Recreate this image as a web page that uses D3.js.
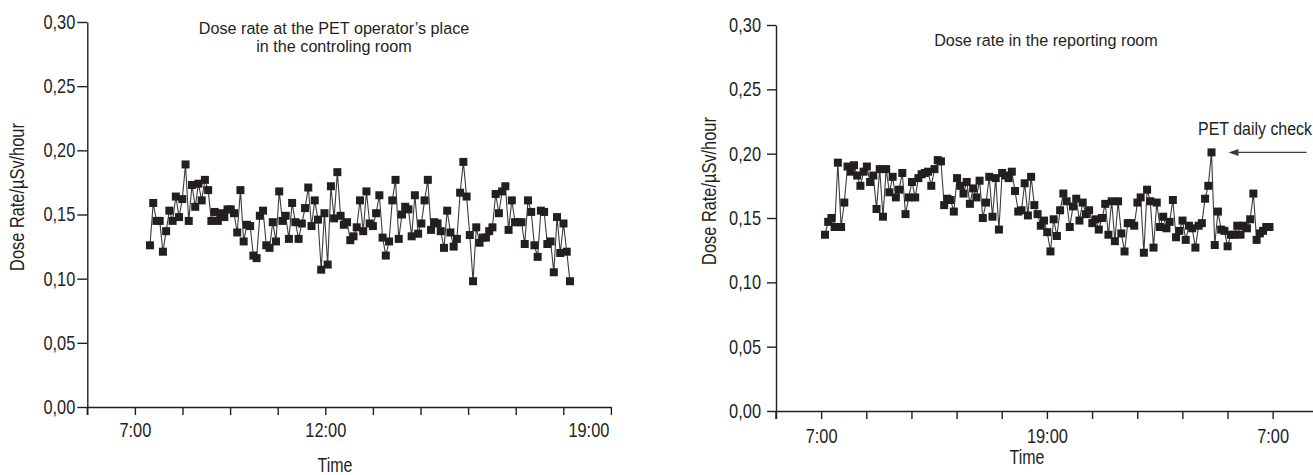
<!DOCTYPE html>
<html>
<head>
<meta charset="utf-8">
<script src="https://cdn.jsdelivr.net/npm/d3@7"></script>
<style>
  body { margin: 0; background: #fff; }
  svg text { font-family: "Liberation Sans", Arial, sans-serif; fill: #231f20; }
</style>
</head>
<body>
<div id="chart"></div>
<script>
var width = 1313;
var height = 475;

// y ticks shared by both panels
var yTicks = [0, 0.05, 0.10, 0.15, 0.20, 0.25, 0.30];

// x tick labels (one per tick, empty = unlabeled tick)
var leftTimeLabels = ["", "7:00", "", "", "", "12:00", "", "", "", "", "", "19:00"];
var rightTimeLabels = ["", "7:00", "", "", "", "", "19:00", "", "", "", "", "7:00", ""];

// sampling span in tick units (first / last reading)
var leftSpan = [1.317, 10.14];
var rightSpan = [1.085, 10.93];

// dose rate readings, µSv/hour
var leftValues = [
  0.126, 0.159, 0.145, 0.145, 0.121, 0.137, 0.153, 0.145, 0.164, 0.148,
  0.162, 0.189, 0.145, 0.173, 0.156, 0.174, 0.161, 0.177, 0.169, 0.145,
  0.152, 0.145, 0.151, 0.148, 0.154, 0.154, 0.151, 0.136, 0.169, 0.129,
  0.142, 0.141, 0.118, 0.116, 0.149, 0.153, 0.126, 0.124, 0.144, 0.129,
  0.168, 0.145, 0.149, 0.131, 0.159, 0.144, 0.131, 0.143, 0.155, 0.171,
  0.141, 0.161, 0.146, 0.107, 0.151, 0.111, 0.172, 0.147, 0.183,
  0.149, 0.142, 0.144, 0.130, 0.133, 0.140, 0.161, 0.137, 0.168, 0.143,
  0.141, 0.151, 0.165, 0.132, 0.118, 0.129, 0.161, 0.177, 0.131, 0.150,
  0.156, 0.154, 0.133, 0.165, 0.135, 0.143, 0.161, 0.177, 0.138, 0.144,
  0.143, 0.137, 0.124, 0.153, 0.136, 0.125, 0.131, 0.167, 0.191, 0.164,
  0.134, 0.098, 0.140, 0.128, 0.132, 0.132, 0.137, 0.140, 0.166, 0.151,
  0.168, 0.172, 0.138, 0.161, 0.144, 0.144, 0.144, 0.127, 0.161, 0.152,
  0.126, 0.117, 0.153, 0.152, 0.127, 0.129, 0.105, 0.148, 0.120, 0.143,
  0.121, 0.098
];

var rightValues = [
  0.137, 0.147, 0.150, 0.143, 0.193, 0.143, 0.162, 0.190, 0.186, 0.191,
  0.183, 0.175, 0.186, 0.190, 0.178, 0.183, 0.157, 0.188, 0.151, 0.188,
  0.170, 0.182, 0.166, 0.172, 0.185, 0.153, 0.166, 0.178, 0.166, 0.181,
  0.184, 0.185, 0.186, 0.175, 0.188, 0.195, 0.194, 0.160, 0.165, 0.164,
  0.155, 0.181, 0.175, 0.169, 0.178, 0.161, 0.173, 0.166, 0.179, 0.150,
  0.162, 0.182, 0.151, 0.181, 0.141, 0.185, 0.183, 0.181, 0.186, 0.171,
  0.155, 0.156, 0.177, 0.152, 0.182,
  0.160, 0.153, 0.144, 0.148, 0.139, 0.124, 0.149, 0.136, 0.156, 0.169,
  0.163, 0.143, 0.159, 0.165, 0.148, 0.162, 0.153, 0.156, 0.146, 0.149,
  0.141, 0.150, 0.161, 0.137, 0.163, 0.132, 0.163, 0.138, 0.124, 0.146,
  0.146, 0.144, 0.162, 0.166, 0.123, 0.172, 0.163, 0.127, 0.162, 0.143,
  0.151, 0.142, 0.147, 0.164, 0.135, 0.140, 0.148, 0.133, 0.144, 0.142,
  0.127, 0.144, 0.146, 0.165, 0.175, 0.201, 0.129, 0.155, 0.141, 0.140,
  0.128, 0.137, 0.137, 0.144, 0.137, 0.144, 0.142, 0.149, 0.169, 0.133,
  0.138, 0.140, 0.143, 0.143
];

var ink = "#231f20";
var commaFormat = d3.formatLocale({decimal: ",", thousands: ".", grouping: [3], currency: ["", ""]}).format(".2f");

var svg = d3.select("#chart")
  .append("svg")
    .attr("width", width)
    .attr("height", height);

// no narrow face installed, so squeeze the glyphs horizontally
function narrow(sel, k, origin) {
  return sel.style("transform-box", "fill-box")
    .style("transform-origin", origin || "center")
    .style("transform", "scaleX(" + k + ")");
}

// Draws one panel: axes, line and square markers
function drawPanel(p, values, timeLabels, span) {
  var nTicks = timeLabels.length - 1;
  var x = d3.scaleLinear().domain([0, nTicks]).range([p.left, p.left + nTicks * p.step]);
  var y = d3.scaleLinear().domain([0, 0.30]).range([p.bottom, p.top]);

  var g = svg.append("g");

  var yAxis = g.append("g")
    .attr("transform", "translate(" + p.left + ",0)")
    .call(d3.axisLeft(y).tickValues(yTicks).tickSize(p.yTickSize).tickSizeOuter(0)
      .tickPadding(p.yPad).tickFormat(commaFormat));

  var xAxis = g.append("g")
    .attr("transform", "translate(0," + p.bottom + ")")
    .call(d3.axisBottom(x).tickValues(d3.range(0, nTicks + 1)).tickSize(8).tickSizeOuter(0)
      .tickPadding(p.xPad).tickFormat(function(d, i) { return timeLabels[i]; }));

  [yAxis, xAxis].forEach(function(a) {
    a.attr("font-size", 20).attr("font-family", null);
    a.selectAll("path, line").attr("stroke", ink).attr("stroke-width", 1.4);
    a.selectAll("text").attr("fill", ink);
  });
  narrow(yAxis.selectAll("text"), 0.82, "right");
  narrow(xAxis.selectAll("text"), 0.82, "center");

  // vertical axis line continues down to the first x tick
  g.append("line")
    .attr("x1", p.left).attr("x2", p.left)
    .attr("y1", p.bottom).attr("y2", p.bottom + 8)
    .attr("stroke", ink).attr("stroke-width", 1.4);

  if (p.lastLabelEnd) {
    var last = xAxis.selectAll(".tick").filter(function(d) { return d === nTicks; })
      .select("text").attr("text-anchor", "end").attr("x", -2);
    narrow(last, 0.82, "right");
  }

  var stepT = (span[1] - span[0]) / (values.length - 1);
  var px = function(d, i) { return x(span[0] + i * stepT); };

  var line = d3.line().x(px).y(function(d) { return y(d); });

  g.append("path")
    .datum(values)
    .attr("fill", "none")
    .attr("stroke", "#3b3b3b")
    .attr("stroke-width", 1.1)
    .attr("d", line);

  g.append("g")
    .selectAll("rect")
    .data(values)
    .join("rect")
      .attr("x", function(d, i) { return px(d, i) - 4; })
      .attr("y", function(d) { return y(d) - 4; })
      .attr("width", 8)
      .attr("height", 8)
      .attr("fill", ink);

  // axis titles
  var yTitle = g.append("g")
    .attr("transform", "translate(" + p.yTitleX + "," + p.yTitleY + ") rotate(-90)")
    .append("text")
    .attr("text-anchor", "middle")
    .attr("font-size", 19.5)
    .text("Dose Rate/\u00b5Sv/hour");
  narrow(yTitle, 0.84);

  narrow(g.append("text")
    .attr("x", p.timeX)
    .attr("y", p.timeY)
    .attr("text-anchor", "middle")
    .attr("font-size", 19.5)
    .text("Time"), 0.82);

  p.title.forEach(function(t, i) {
    narrow(g.append("text")
      .attr("x", p.titleX)
      .attr("y", p.titleY + i * 18)
      .attr("text-anchor", "middle")
      .attr("font-size", 16.5)
      .text(t), 0.98);
  });

  return {x: x, y: y, px: px};
}

var leftPanel = drawPanel({
  left: 87.3, step: 47.6, top: 22, bottom: 407,
  yTickSize: 10, yPad: 2, xPad: 8, lastLabelEnd: true,
  yTitleX: 24, yTitleY: 197, timeX: 335, timeY: 472,
  titleX: 334, titleY: 34, title: ["Dose rate at the PET operator\u2019s place", "in the controling room"]
}, leftValues, leftTimeLabels, leftSpan);

var rightPanel = drawPanel({
  left: 776, step: 45.15, top: 25, bottom: 411,
  yTickSize: 9, yPad: 6, xPad: 10, lastLabelEnd: false,
  yTitleX: 716, yTitleY: 191, timeX: 1027, timeY: 464,
  titleX: 1046, titleY: 46, title: ["Dose rate in the reporting room"]
}, rightValues, rightTimeLabels, rightSpan);

// annotation for the peak reading
var peakIndex = d3.maxIndex(rightValues);
var peakX = rightPanel.px(rightValues[peakIndex], peakIndex);
var peakY = rightPanel.y(rightValues[peakIndex]);

svg.append("line")
  .attr("x1", peakX + 24).attr("x2", peakX + 95)
  .attr("y1", peakY).attr("y2", peakY)
  .attr("stroke", "#3b3b3b").attr("stroke-width", 1.2);

svg.append("path")
  .attr("d", d3.line()([[peakX + 17, peakY], [peakX + 27, peakY - 3.5], [peakX + 27, peakY + 3.5]]) + "Z")
  .attr("fill", "#3b3b3b");

narrow(svg.append("text")
  .attr("x", 1312)
  .attr("y", peakY - 17)
  .attr("text-anchor", "end")
  .attr("font-size", 19)
  .text("PET daily check"), 0.84, "right");
</script>
</body>
</html>
